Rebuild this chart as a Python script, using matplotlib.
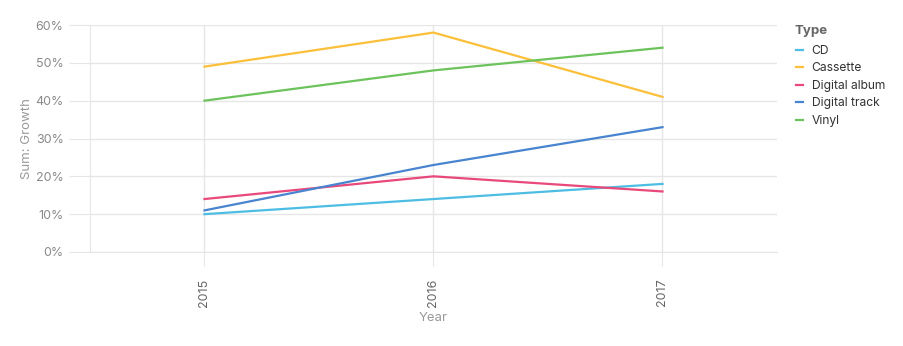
import matplotlib.pyplot as plt
from matplotlib.ticker import FuncFormatter

plt.rcParams['font.family'] = ['Inter', 'DejaVu Sans']

years = [2015, 2016, 2017]
types = ['CD', 'Cassette', 'Digital album', 'Digital track', 'Vinyl']
growth = {
    'CD': [10, 14, 18],
    'Cassette': [49, 58, 41],
    'Digital album': [14, 20, 16],
    'Digital track': [11, 23, 33],
    'Vinyl': [40, 48, 54],
}
colors = ['#4dbde3', '#fbbf3a', '#e8497a', '#4884d0', '#6cc35c']

grid_col = '#e6e6e6'
tick_col = '#8a8a8a'

W, H = 904, 346
fig = plt.figure(figsize=(W / 100, H / 100), dpi=100)
ax = fig.add_axes([90 / W, (H - 252) / H, 687 / W, 227 / H])

for t, c in zip(types, colors):
    ax.plot(years, growth[t], color=c, linewidth=1.6, label=t, zorder=3)

ax.set_xlim(2014.5, 2017.5)
ax.set_ylim(0, 60)
ax.set_xticks(years)
ax.set_xticklabels([str(y) for y in years], rotation=90)
ax.set_yticks(range(0, 61, 10))
ax.yaxis.set_major_formatter(FuncFormatter(lambda v, p: f'{v:.0f}%'))

ax.grid(True, color=grid_col, linewidth=1)
for s in ['top', 'right']:
    ax.spines[s].set_visible(False)
ax.spines['left'].set_color(grid_col)
ax.spines['bottom'].set_color(grid_col)
ax.tick_params(axis='x', length=10, color=grid_col, labelcolor='#666666',
               labelsize=9, pad=9)
ax.tick_params(axis='y', length=15, color=grid_col, labelcolor=tick_col,
               labelsize=9, pad=4)

ax.set_xlabel('Year', color='#999999', fontsize=9.5, labelpad=4)
ax.set_ylabel('Sum: Growth', color='#999999', fontsize=9.5)
ax.yaxis.set_label_coords((33 - 90) / 687, 0.5)

# legend title drawn separately so the gap below it can be set
fig.text(795 / W, 1 - 31 / H, 'Type', fontsize=9.5, fontweight='bold',
         color='#666666', va='center', ha='left')
leg = ax.legend(loc='upper left', bbox_to_anchor=(796 / W, 1 - 45 / H),
                bbox_transform=fig.transFigure,
                frameon=False, handlelength=0.6, handletextpad=0.7,
                labelspacing=0.45, fontsize=8.7, borderaxespad=0,
                borderpad=0)
for txt in leg.get_texts():
    txt.set_color('#333333')

fig.savefig('out.png', dpi=100)
